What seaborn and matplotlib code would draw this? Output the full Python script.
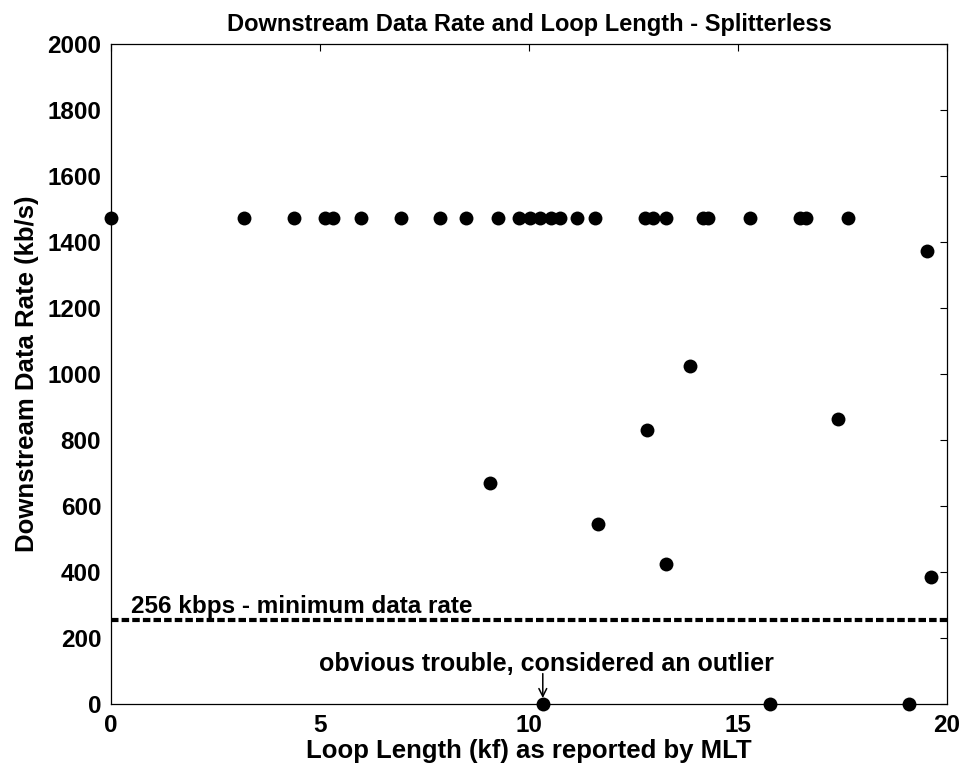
import matplotlib
matplotlib.use("Agg")
import matplotlib.pyplot as plt
import seaborn as sns
import pandas as pd

# Loop length (kf) and downstream rate (kb/s) for each splitterless line
loop_full_rate = [0.0, 3.18, 4.38, 5.12, 5.32, 5.97, 6.95, 7.86, 8.49, 9.27,
                  9.77, 10.02, 10.26, 10.52, 10.74, 11.16, 11.58, 12.78,
                  12.97, 13.27, 14.17, 14.29, 15.29, 16.48, 16.62, 17.64]
full_rate = 1472
loop_reduced = [9.07, 11.64, 12.83, 13.27, 13.85, 17.38, 19.51, 19.62]
rate_reduced = [671, 545, 830, 425, 1024, 863, 1372, 386]
loop_failed = [10.33, 15.77, 19.09]
rate_failed = [0, 0, 0]

min_rate = 256
outlier_loop = 10.33

x_ticks = [0, 5, 10, 15, 20]
y_ticks = list(range(0, 2001, 200))

df = pd.DataFrame({
    "loop": loop_full_rate + loop_reduced + loop_failed,
    "rate": [full_rate] * len(loop_full_rate) + rate_reduced + rate_failed,
})

sns.set_style("white")
plt.rcParams["font.family"] = ["Liberation Sans", "DejaVu Sans"]
plt.rcParams["font.weight"] = "bold"
plt.rcParams["text.color"] = "black"
plt.rcParams["axes.labelcolor"] = "black"

fig = plt.figure(figsize=(9.64, 7.76), dpi=100)
ax = fig.add_axes([0.1151, 0.0928, 0.8673, 0.8505])

sns.scatterplot(data=df, x="loop", y="rate", ax=ax, color="black",
                s=100, edgecolor="black", linewidth=0, zorder=3, clip_on=False)

ax.axhline(min_rate, color="black", lw=3.0, dashes=(1.8, 0.75), zorder=2)

ax.set_xlim(0, 20)
ax.set_ylim(0, 2000)
ax.set_xticks(x_ticks)
ax.set_yticks(y_ticks)
ax.tick_params(direction="in", length=5, width=0.8, top=True, right=True,
               labelsize=17.5, pad=7, colors="black")
for lab in ax.get_xticklabels() + ax.get_yticklabels():
    lab.set_fontweight("bold")
for sp in ax.spines.values():
    sp.set_color("black")
    sp.set_linewidth(0.9)

ax.set_xlabel("Loop Length (kf) as reported by MLT", fontsize=18.5,
              fontweight="bold", labelpad=2, color="black")
ax.set_ylabel("Downstream Data Rate (kb/s)", fontsize=18.5,
              fontweight="bold", labelpad=6, color="black")
ax.set_title("Downstream Data Rate and Loop Length - Splitterless",
             fontsize=17, fontweight="bold", pad=9, color="black")

ax.text(0.48, 276, "256 kbps - minimum data rate", fontsize=17.5,
        fontweight="bold", va="baseline", ha="left", color="black")
ax.text(4.98, 121, "obvious trouble, considered an outlier", fontsize=18,
        fontweight="bold", va="center", ha="left", color="black")
ax.annotate("", xy=(outlier_loop, 18), xytext=(outlier_loop, 92),
            arrowprops=dict(arrowstyle="->", color="black", lw=1.1,
                            mutation_scale=14, shrinkA=0, shrinkB=0))

ax.set_facecolor("white")
fig.patch.set_facecolor("white")
fig.savefig("out.png", dpi=100)
